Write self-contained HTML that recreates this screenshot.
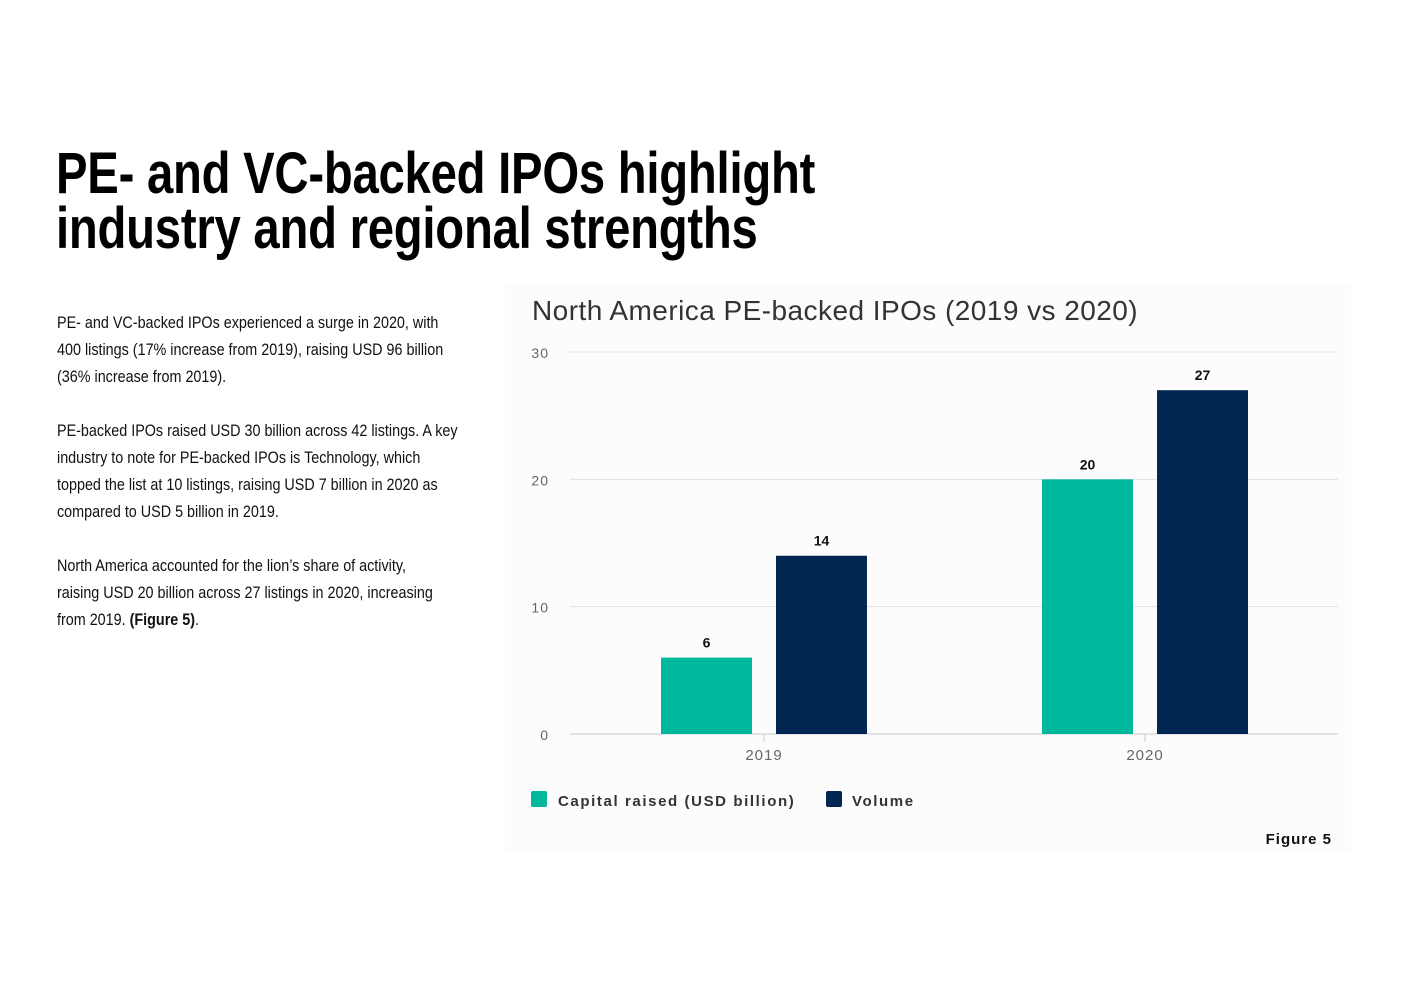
<!DOCTYPE html>
<html><head><meta charset="utf-8">
<style>
body{margin:0;width:1403px;height:992px;background:#fff;position:relative;overflow:hidden;font-family:"Liberation Sans",sans-serif;}
#title{position:absolute;left:56px;top:146px;font-size:58px;line-height:55px;font-weight:bold;color:#000;letter-spacing:-0.3px;margin:0;transform:scaleX(0.815);transform-origin:0 0;white-space:nowrap;}
#body{position:absolute;left:57px;top:310px;font-size:16.5px;line-height:27px;color:#111;white-space:nowrap;transform:scaleX(0.87);transform-origin:0 0;}
#body p{margin:0 0 27px 0;}
#panel{position:absolute;left:505px;top:285px;width:846px;height:566px;background:#fcfcfc;}
</style></head><body>
<h1 id="title">PE- and VC-backed IPOs highlight<br>industry and regional strengths</h1>
<div id="body">
<p>PE- and VC-backed IPOs experienced a surge in 2020, with<br>400 listings (17% increase from 2019), raising USD 96 billion<br>(36% increase from 2019).</p>
<p>PE-backed IPOs raised USD 30 billion across 42 listings. A key<br>industry to note for PE-backed IPOs is Technology, which<br>topped the list at 10 listings, raising USD 7 billion in 2020 as<br>compared to USD 5 billion in 2019.</p>
<p>North America accounted for the lion’s share of activity,<br>raising USD 20 billion across 27 listings in 2020, increasing<br>from 2019. <b>(Figure 5)</b>.</p>
</div>
<div id="panel"></div>
<svg id="chart" width="1403" height="992" style="position:absolute;left:0;top:0" font-family="Liberation Sans, Arial, sans-serif">
<text x="532" y="320" font-size="28" letter-spacing="0.45" fill="#333">North America PE-backed IPOs (2019 vs 2020)</text>
<g id="grid"></g><g id="bars"></g>
<rect x="531" y="791" width="16" height="16" rx="2" fill="#00b89c"/>
<text x="558" y="806" font-size="15" font-weight="bold" fill="#333" letter-spacing="1.6">Capital raised (USD billion)</text>
<rect x="826" y="791" width="16" height="16" rx="2" fill="#012652"/>
<text x="852" y="806" font-size="15" font-weight="bold" fill="#333" letter-spacing="1.6">Volume</text>
<text x="1332" y="844" font-size="15" font-weight="bold" fill="#111" text-anchor="end" letter-spacing="1">Figure 5</text>
</svg>
<script>
const categories=["2019","2020"];
const capital=[6,20];
const volume=[14,27];
const ticks=[0,10,20,30];
const NS="http://www.w3.org/2000/svg";
const x0=570,x1=1338,y0=734,y1=352,maxV=30;
const yS=v=>y0-(v/maxV)*(y0-y1);
const bandW=381;
const xC=i=>573.5+bandW*(i+0.5);
function mk(t,a,p){const e=document.createElementNS(NS,t);for(const k in a)e.setAttribute(k,a[k]);p.appendChild(e);return e;}
const grid=document.getElementById('grid'),bars=document.getElementById('bars');
ticks.forEach(t=>{
 const l=mk('line',{x1:x0,x2:x1,y1:yS(t),y2:yS(t),stroke:t===0?'#c8c8d8':'#e2e2e2','stroke-width':1},grid);
 
 
 const tx=mk('text',{x:549,y:yS(t)+6,'font-size':14,fill:'#666','text-anchor':'end','letter-spacing':1},grid);
 tx.textContent=t;
 
 
});
categories.forEach((c,i)=>{
 const tk=mk('line',{x1:xC(i),x2:xC(i),y1:y0,y2:y0+8,stroke:'#c8c8d8'},grid);
 
 
 const tx=mk('text',{x:xC(i),y:760,'font-size':15,fill:'#666','text-anchor':'middle','letter-spacing':1},grid);
 tx.textContent=c;
 
 
 [[capital,'#00b89c',-103,'capital'],[volume,'#012652',12,'volume']].forEach(([arr,col,off,nm])=>{
  const v=arr[i],bx=xC(i)+off;
  const r=mk('rect',{x:bx,y:yS(v),width:91,height:y0-yS(v),fill:col},bars);
  
  
  const lb=mk('text',{x:bx+45.5,y:yS(v)-10,'font-size':14,'font-weight':'bold',fill:'#111','text-anchor':'middle'},bars);
  lb.textContent=v;
  
  
 });
});
</script>
</body></html>
